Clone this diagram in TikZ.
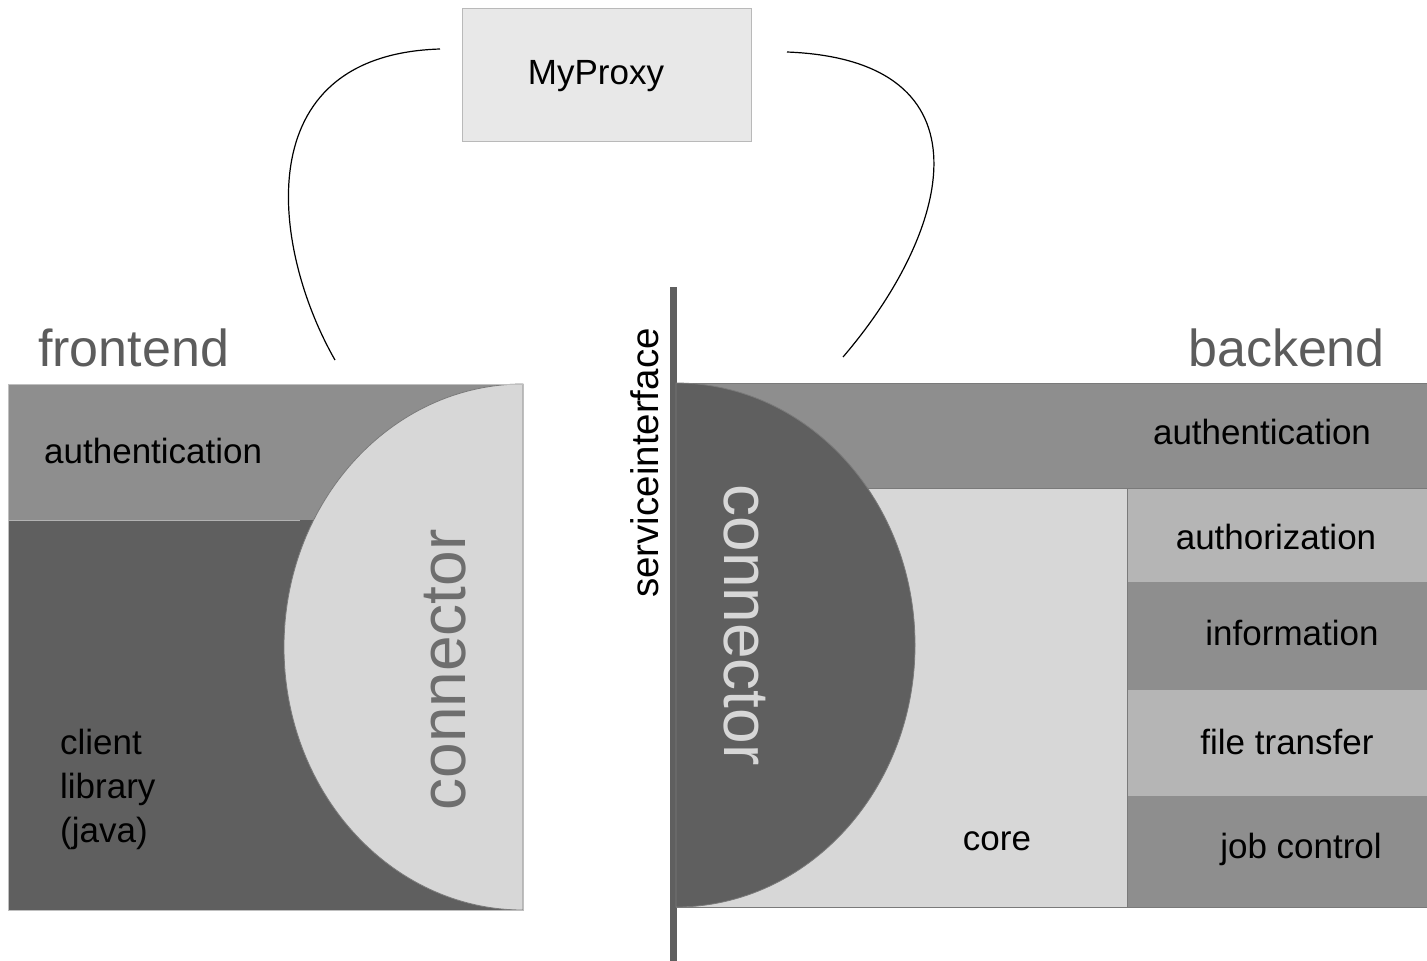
\documentclass[tikz,border=0pt]{standalone}
\usepackage{fontspec}
\setmainfont{Liberation Sans}
\begin{document}
\begin{tikzpicture}[x=1pt,y=-1pt,
  lbl/.style={inner sep=0pt,font=\fontsize{35}{44}\selectfont,text=black},
  title/.style={inner sep=0pt,font=\fontsize{52}{60}\selectfont,text=gray5},
  conn/.style={inner sep=0pt,font=\fontsize{64}{70}\selectfont},
  edge/.style={draw=gray6,line width=0.8pt},
  wire/.style={draw=black,line width=1.2pt}]
\definecolor{gray5}{HTML}{5C5C5C}
\definecolor{gray6}{HTML}{7A7A7A}
\definecolor{dark}{HTML}{5F5F5F}
\definecolor{mid}{HTML}{8E8E8E}
\definecolor{midl}{HTML}{B5B5B5}
\definecolor{light}{HTML}{D7D7D7}
\definecolor{proxy}{HTML}{E8E8E8}
\definecolor{ctext}{HTML}{6E6E6E}
\useasboundingbox (0,0) rectangle (1427,961);
\fill[white] (0,0) rectangle (1427,961);

% MyProxy
\node[draw=gray!55,fill=proxy,line width=1pt,minimum width=289pt,minimum height=133pt,inner sep=0pt] (proxy) at (606.5,74.5) {};
\node[lbl,anchor=base] (proxytxt) at (596,84) {MyProxy};

% frontend
\node[title,anchor=base west] (ftitle) at (38,366) {frontend};
\fill[dark] (8,520) rectangle (523,910);
\fill[mid] (8,384) rectangle (523,520);
\draw[edge,draw=gray!60] (8,520) -- (300,520);
\draw[edge,fill=light] (523,384) arc[start angle=90,end angle=270,x radius=239pt,y radius=263pt] -- cycle;
\draw[edge,draw=gray!50] (8,384) rectangle (523,910);
\node[lbl,anchor=base west] (fauth) at (44,463) {authentication};
\node[lbl,anchor=base west] (client) at (60,754) {client};
\node[lbl,anchor=base west] (library) at (60,798) {library};
\node[lbl,anchor=base west] (java) at (60,842) {(java)};
\node[conn,rotate=90,anchor=base,text=ctext] (fconn) at (465,670) {connector};
\coordinate (fin) at (335,360);

% service interface
\fill[dark] (670,287) rectangle (677,961);
\node[lbl,rotate=90,anchor=base,font=\fontsize{38.5}{44}\selectfont] (si) at (658,463) {serviceinterface};

% backend
\node[title,anchor=base east] (btitle) at (1385,366) {backend};
\draw[edge,fill=mid] (676,383) rectangle (1427,488);
\draw[edge,fill=light] (676,488) rectangle (1127,907);
\draw[edge,fill=midl] (1127,488) rectangle (1427,582);
\fill[mid] (1127,582) rectangle (1427,690);
\fill[midl] (1127,690) rectangle (1427,796);
\fill[mid] (1127,796) rectangle (1427,907);
\draw[edge] (1127,582) -- (1127,907) -- (1427,907);
\draw[edge,fill=dark] (676,383) arc[start angle=90,end angle=-90,x radius=239pt,y radius=262pt] -- cycle;
\node[lbl,anchor=base] (bauth) at (1262,444) {authentication};
\node[lbl,anchor=base] (authz) at (1276,549) {authorization};
\node[lbl,anchor=base] (info) at (1292,645) {information};
\node[lbl,anchor=base] (ftrans) at (1287,754) {file transfer};
\node[lbl,anchor=base] (job) at (1301,858) {job control};
\node[lbl,anchor=base] (core) at (997,850) {core};
\node[conn,rotate=-90,anchor=base,text=light] (bconn) at (724,625) {connector};
\coordinate (bin) at (843,357);

% connectors from MyProxy
\coordinate (pl) at (440,49);
\coordinate (pr) at (787,52);
\draw[wire] (pl) .. controls (245,55) and (272,250) .. (fin);
\draw[wire] (pr) .. controls (995,60) and (952,230) .. (bin);
\end{tikzpicture}
\end{document}
